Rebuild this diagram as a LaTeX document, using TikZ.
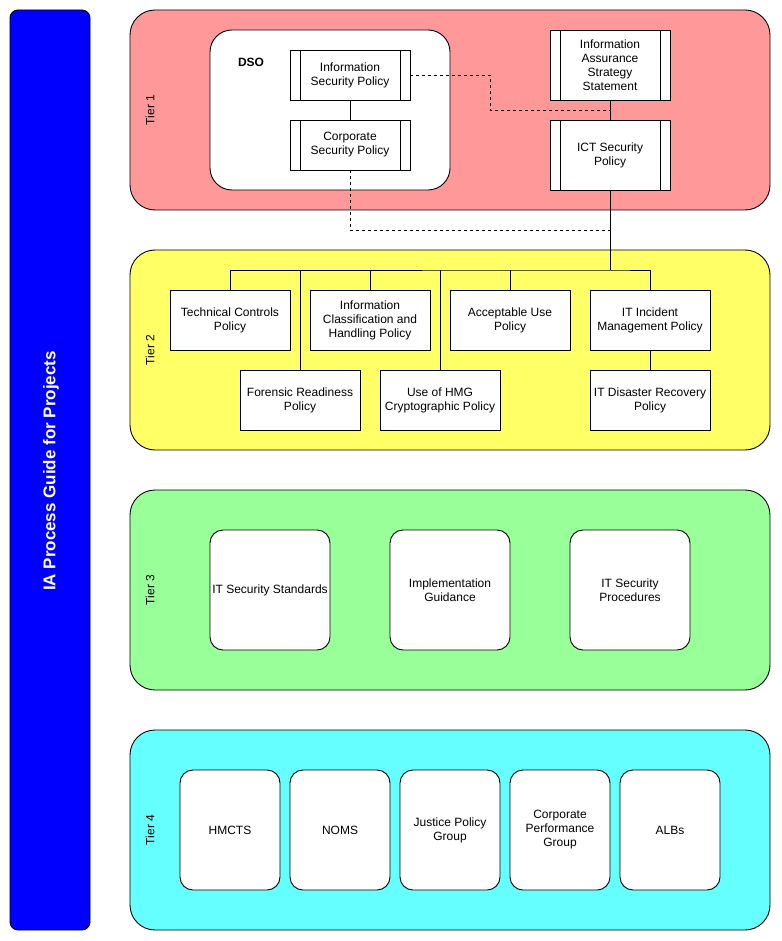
\documentclass[tikz,border=0pt]{standalone}
\usepackage{fontspec}
\setmainfont{Liberation Sans}
\definecolor{tone}{HTML}{FF9999}
\definecolor{ttwo}{HTML}{FFFF66}
\definecolor{tthree}{HTML}{99FF99}
\definecolor{tfour}{HTML}{66FFFF}
\definecolor{bar}{HTML}{0000FF}
\tikzset{
  base/.style={draw=black, line width=0.9pt, inner sep=0pt, align=center, font=\fontsize{12}{14}\selectfont},
  tier/.style={base, rounded corners=25pt, minimum width=640pt, minimum height=200pt},
  tierlabel/.style={rotate=90, font=\fontsize{12}{14}\selectfont, inner sep=0pt},
  procbox/.style={base, fill=white, minimum width=120pt,
    path picture={
      \draw[line width=0.9pt] ([xshift=10pt]path picture bounding box.north west) -- ([xshift=10pt]path picture bounding box.south west);
      \draw[line width=0.9pt] ([xshift=-10pt]path picture bounding box.north east) -- ([xshift=-10pt]path picture bounding box.south east);
    }},
  polbox/.style={base, fill=white, minimum width=120pt, minimum height=60pt},
  softbox/.style={base, fill=white, rounded corners=13pt},
  link/.style={line width=0.9pt},
  dlink/.style={line width=0.9pt, dash pattern=on 3pt off 3pt},
}
\begin{document}
\begin{tikzpicture}[x=1pt,y=-1pt]
\useasboundingbox (0,0) rectangle (781,941);
\fill[white] (0,0) rectangle (781,941);

% left bar
\node[base, fill=bar, rounded corners=8pt, minimum width=80pt, minimum height=920pt] (barbox) at (50,470) {};
\node[rotate=90, text=white, font=\bfseries\fontsize{17}{20}\selectfont] (title) at (51,471) {IA Process Guide for Projects};

% tiers
\node[tier, fill=tone] (tier1) at (450,110) {};
\node[tierlabel] (t1l) at (150,110) {Tier 1};
\node[tier, fill=ttwo] (tier2) at (450,350) {};
\node[tierlabel] (t2l) at (150,350) {Tier 2};
\node[tier, fill=tthree] (tier3) at (450,590) {};
\node[tierlabel] (t3l) at (150,590) {Tier 3};
\node[tier, fill=tfour] (tier4) at (450,830) {};
\node[tierlabel] (t4l) at (150,830) {Tier 4};

% tier 1
\node[base, fill=white, rounded corners=22pt, minimum width=240pt, minimum height=160pt] (dso) at (330,110) {};
\node[font=\bfseries\fontsize{12}{14}\selectfont, inner sep=0pt] (dsol) at (251,62) {DSO};
\node[procbox, minimum height=50pt] (isp) at (350,75) {Information\\Security Policy};
\node[procbox, minimum height=50pt] (csp) at (350,145) {Corporate\\Security Policy};
\node[procbox, minimum height=70pt] (iass) at (610,65) {Information\\Assurance\\Strategy\\Statement};
\node[procbox, minimum height=70pt] (ict) at (610,155) {ICT Security\\Policy};

\coordinate (m1) at (610,110);
\coordinate (d1) at (490,75);
\coordinate (m2) at (610,230);
\coordinate (bj) at (610,270);

\draw[link] (isp.south) -- (csp.north);
\draw[link] (iass.south) -- (ict.north);
\draw[dlink] (isp.east) -- (d1) |- (m1);
\draw[dlink] (csp.south) |- (m2);

% tier 2
\node[polbox] (tcp) at (230,320) {Technical Controls\\Policy};
\node[polbox] (icp) at (370,320) {Information\\Classification and\\Handling Policy};
\node[polbox] (aup) at (510,320) {Acceptable Use\\Policy};
\node[polbox] (iim) at (650,320) {IT Incident\\Management Policy};
\node[polbox] (frp) at (300,400) {Forensic Readiness\\Policy};
\node[polbox] (hmg) at (440,400) {Use of HMG\\Cryptographic Policy};
\node[polbox] (idr) at (650,400) {IT Disaster Recovery\\Policy};

\draw[link] (ict.south) -- (bj);
\draw[link] (tcp.north) |- (bj) -| (iim.north);
\draw[link] (icp.north) -- (icp.north |- bj);
\draw[link] (aup.north) -- (aup.north |- bj);
\draw[link] (frp.north) -- (frp.north |- bj);
\draw[link] (hmg.north) -- (hmg.north |- bj);
\draw[link] (iim.south) -- (idr.north);

% tier 3
\node[softbox, minimum width=120pt, minimum height=120pt] (iss) at (270,590) {IT Security Standards};
\node[softbox, minimum width=120pt, minimum height=120pt] (ig) at (450,590) {Implementation\\Guidance};
\node[softbox, minimum width=120pt, minimum height=120pt] (isproc) at (630,590) {IT Security\\Procedures};

% tier 4
\node[softbox, minimum width=100pt, minimum height=120pt] (hmcts) at (230,830) {HMCTS};
\node[softbox, minimum width=100pt, minimum height=120pt] (noms) at (340,830) {NOMS};
\node[softbox, minimum width=100pt, minimum height=120pt] (jpg) at (450,830) {Justice Policy\\Group};
\node[softbox, minimum width=100pt, minimum height=120pt] (cpg) at (560,830) {Corporate\\Performance\\Group};
\node[softbox, minimum width=100pt, minimum height=120pt] (albs) at (670,830) {ALBs};
\end{tikzpicture}
\end{document}
